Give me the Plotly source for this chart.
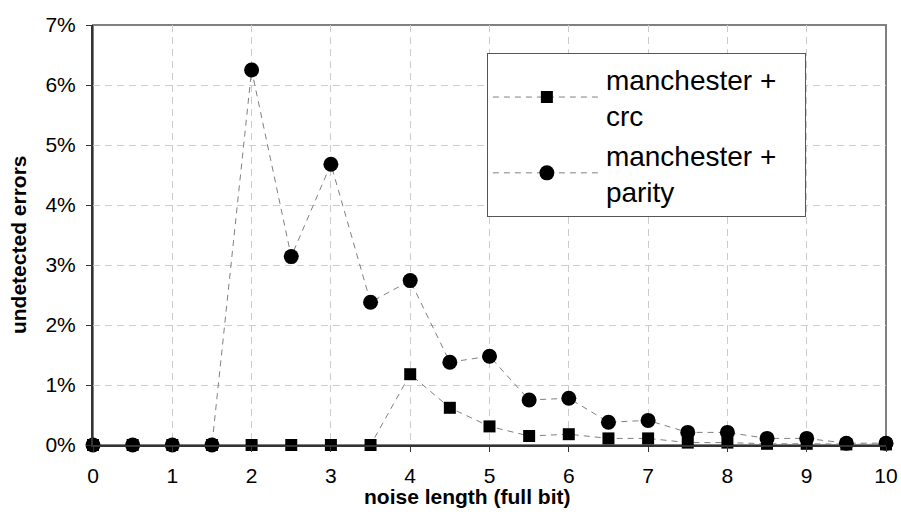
import plotly.graph_objects as go

# noise length (full bit)
noise_length = [0, 0.5, 1, 1.5, 2, 2.5, 3, 3.5, 4, 4.5, 5,
                5.5, 6, 6.5, 7, 7.5, 8, 8.5, 9, 9.5, 10]

# undetected errors (fraction)
crc = [0, 0, 0, 0, 0, 0, 0, 0, 0.0118, 0.0062, 0.0031,
       0.0015, 0.0018, 0.0011, 0.0011, 0.0004, 0.0004, 0.0002, 0.0002, 0.0001, 0.0001]
parity = [0, 0, 0, 0, 0.0625, 0.0314, 0.0468, 0.0238, 0.0274, 0.0138, 0.0148,
          0.0075, 0.0078, 0.0038, 0.0041, 0.0021, 0.0021, 0.0011, 0.0011, 0.0003, 0.0003]

FONT = "Liberation Sans, Arial, sans-serif"
NBSP = "\u00a0\u00a0\u00a0"

fig = go.Figure()
fig.add_trace(go.Scatter(
    x=noise_length, y=crc,
    mode="lines+markers",
    name="manchester +" + NBSP + "<br>crc",
    line=dict(color="#808080", width=1, dash="6px,5px"),
    marker=dict(symbol="square", size=12, color="black"),
    cliponaxis=False,
))
fig.add_trace(go.Scatter(
    x=noise_length, y=parity,
    mode="lines+markers",
    name="manchester +" + NBSP + "<br>parity",
    line=dict(color="#808080", width=1, dash="6px,5px"),
    marker=dict(symbol="circle", size=15, color="black"),
    cliponaxis=False,
))

# gray frame on top/right
fig.add_shape(type="rect", xref="paper", yref="paper", x0=0, y0=0, x1=1, y1=1,
              line=dict(color="#808080", width=2), layer="below")

# axis titles (placed by hand, like the original)
fig.add_annotation(text="<b>noise length (full bit)</b>", xref="paper", yref="paper",
                   x=0.472, y=-0.1224, xanchor="center", yanchor="middle",
                   showarrow=False, font=dict(family=FONT, size=21, color="black"))
fig.add_annotation(text="<b>undetected errors</b>", xref="paper", yref="paper",
                   x=-0.0931, y=0.4765, xanchor="center", yanchor="middle",
                   textangle=-90, showarrow=False,
                   font=dict(family=FONT, size=21, color="black"))

fig.update_xaxes(
    range=[0, 10], dtick=1, tick0=0,
    showgrid=True, gridcolor="#cccccc", griddash="7px,5px", gridwidth=1,
    showline=True, linecolor="#333333", linewidth=2,
    ticks="outside", ticklen=5, tickcolor="#333333",
    zeroline=False, ticklabelstandoff=6,
    tickfont=dict(family=FONT, size=21, color="black"),
)
fig.update_yaxes(
    range=[0, 0.07], dtick=0.01, tick0=0, tickformat=".0%",
    showgrid=True, gridcolor="#cccccc", griddash="7px,5px", gridwidth=1,
    showline=True, linecolor="#333333", linewidth=2,
    ticks="outside", ticklen=5, tickcolor="#333333",
    zeroline=False, ticklabelstandoff=6,
    tickfont=dict(family=FONT, size=21, color="black"),
)

fig.update_layout(
    width=901, height=519,
    margin=dict(l=93, r=15, t=25, b=73.5, autoexpand=False),
    plot_bgcolor="white", paper_bgcolor="white",
    showlegend=True,
    legend=dict(
        x=0.4967, y=0.933, xanchor="left", yanchor="top",
        bgcolor="white", bordercolor="#555555", borderwidth=1,
        font=dict(family=FONT, size=28, color="black"),
        itemwidth=108,
    ),
)

# drop the browser's default body margin so the figure fills the window
fig.write_html("out.html", config={"displayModeBar": False},
               post_script="document.body.style.margin='0';")
